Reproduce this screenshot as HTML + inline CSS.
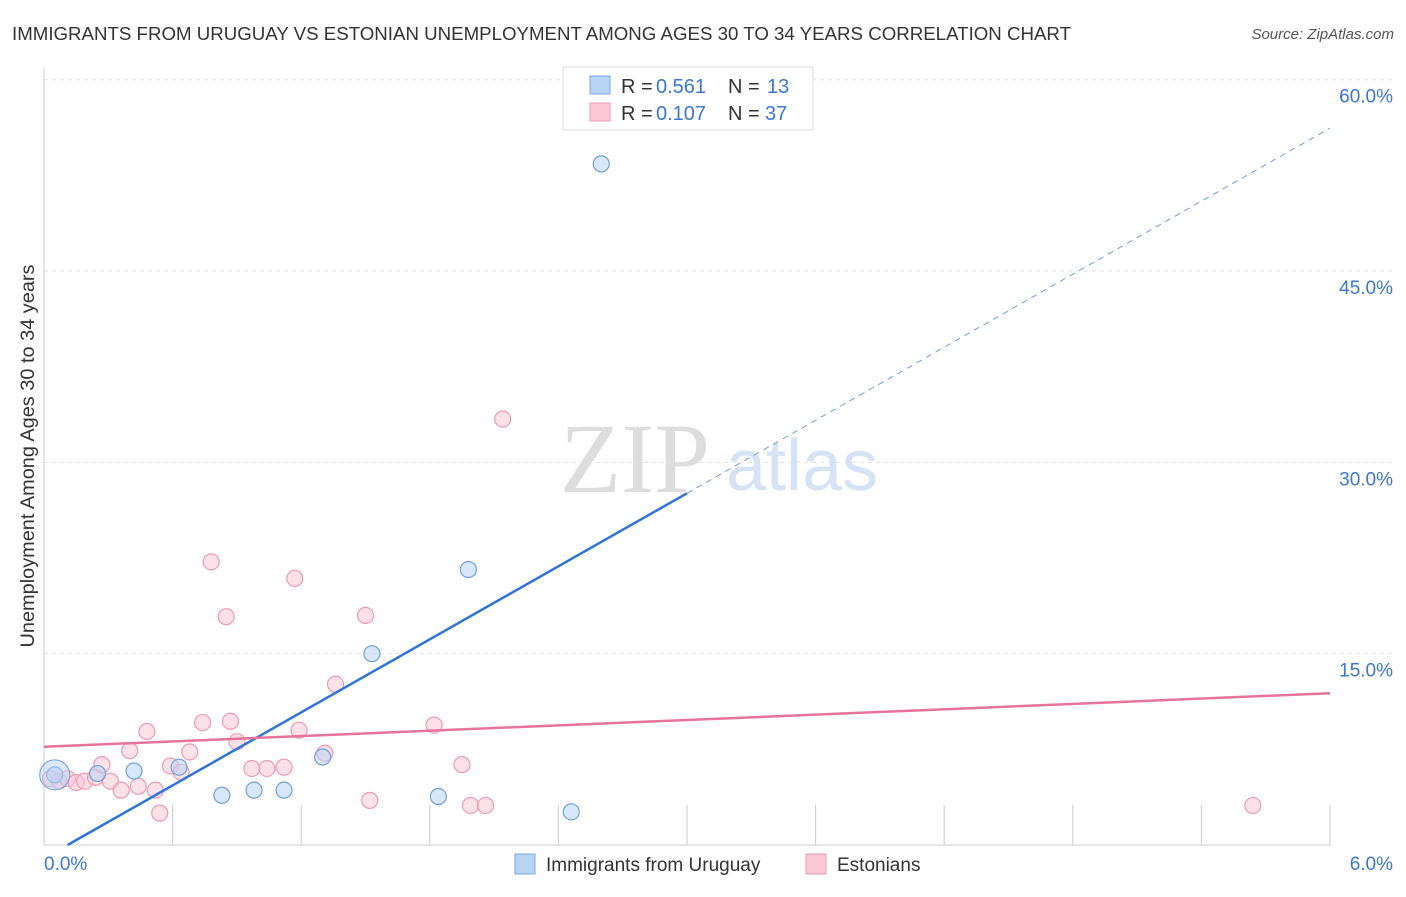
<!DOCTYPE html>
<html><head><meta charset="utf-8"><style>
body{margin:0;background:#fff;font-family:"Liberation Sans",sans-serif}
</style></head><body>
<svg id="c" width="1406" height="892" xmlns="http://www.w3.org/2000/svg">
<text x="12" y="40" font-size="18" fill="#333" textLength="1059" lengthAdjust="spacingAndGlyphs">IMMIGRANTS FROM URUGUAY VS ESTONIAN UNEMPLOYMENT AMONG AGES 30 TO 34 YEARS CORRELATION CHART</text>
<text x="1394" y="39" font-size="15" fill="#555" font-style="italic" text-anchor="end">Source: ZipAtlas.com</text>
<text x="635" y="492" font-size="100" fill="#ddd" font-family="Liberation Serif" text-anchor="middle">ZIP</text>
<text x="802" y="490" font-size="72" fill="#d5e3f5" text-anchor="middle">atlas</text>
<text transform="translate(34,456) rotate(-90)" font-size="19" fill="#333" text-anchor="middle" textLength="383" lengthAdjust="spacingAndGlyphs">Unemployment Among Ages 30 to 34 years</text>
<g id="grid"></g><g id="marks"></g>
<g>
<rect x="563" y="67" width="250" height="63" fill="#fff" stroke="#ddd"/>
<rect x="590" y="76" width="20" height="18" fill="#b8d4f5" stroke="#7aa8e0"/>
<rect x="590" y="103" width="20" height="18" fill="#fac8d6" stroke="#ee9ab2"/>
<text x="621" y="93" font-size="20" fill="#333">R =</text><text x="656" y="93" font-size="20" fill="#3a78d4">0.561</text>
<text x="728" y="93" font-size="20" fill="#333">N =</text><text x="767" y="93" font-size="20" fill="#3a78d4">13</text>
<text x="621" y="120" font-size="20" fill="#333">R =</text><text x="656" y="120" font-size="20" fill="#3a78d4">0.107</text>
<text x="728" y="120" font-size="20" fill="#333">N =</text><text x="765" y="120" font-size="20" fill="#3a78d4">37</text>
</g>
<g>
<rect x="515" y="854" width="20" height="20" fill="#b8d4f5" stroke="#7aa8e0"/>
<text x="546" y="871" font-size="19" fill="#333">Immigrants from Uruguay</text>
<rect x="806" y="854" width="20" height="20" fill="#fac8d6" stroke="#ee9ab2"/>
<text x="837" y="871" font-size="19" fill="#333">Estonians</text>
</g>
</svg>
<script>
const blueX=[0.05,0.25,0.42,0.63,0.83,0.98,1.12,1.30,1.53,1.84,1.98,2.46,2.60];
const blueY=[5.5,5.6,5.8,6.1,3.9,4.3,4.3,6.9,15.0,3.8,21.6,2.6,53.4];
const pinkX=[0.03,0.07,0.11,0.15,0.19,0.24,0.27,0.31,0.36,0.40,0.44,0.48,0.52,0.54,0.59,0.64,0.68,0.74,0.78,0.85,0.87,0.90,0.97,1.04,1.12,1.17,1.19,1.31,1.36,1.50,1.52,1.82,1.95,1.99,2.06,2.14,5.64];
const pinkY=[5.2,5.0,5.2,4.9,5.0,5.3,6.3,5.0,4.3,7.4,4.6,8.9,4.3,2.5,6.2,5.7,7.3,9.6,22.2,17.9,9.7,8.1,6.0,6.0,6.1,20.9,9.0,7.2,12.6,18.0,3.5,9.4,6.3,3.1,3.1,33.4,3.1];
const blueLine=[[0.11,0],[6,56.2]];
const pinkLine=[[0,7.7],[6,11.9]];
const yTicks=[15,30,45,60], yLabels=["15.0%","30.0%","45.0%","60.0%"];
const NS="http://www.w3.org/2000/svg";
const X=v=>44+v*214.33, Y=v=>845-v*12.755;
function mk(t,a,p){const e=document.createElementNS(NS,t);for(const k in a)e.setAttribute(k,a[k]);p.appendChild(e);return e;}
const g=document.getElementById('grid'),m=document.getElementById('marks');
yTicks.forEach((t,i)=>{const l=mk('line',{x1:44,x2:1392,y1:Y(t),y2:Y(t),stroke:'#e2e2e2','stroke-dasharray':'4,4'},g);


const tx=mk('text',{x:1393,y:Y(t)+23,'font-size':19,fill:'#3a78d4','text-anchor':'end'},g);tx.textContent=yLabels[i];

});
mk('line',{x1:44,x2:44,y1:68,y2:845,stroke:'#ccc'},g);
mk('line',{x1:44,x2:1330,y1:845,y2:845,stroke:'#ccc'},g);
for(let i=1;i<=10;i++){const t=mk('line',{x1:X(i*0.6),x2:X(i*0.6),y1:805,y2:845,stroke:'#ccc'},g);

}
[["0.0%",44,'start'],["6.0%",1393,'end']].forEach(a=>{const t=mk('text',{x:a[1],y:870,'font-size':19,fill:'#3a78d4','text-anchor':a[2]},g);t.textContent=a[0];

});
function pts(xs,ys,f,s,name){xs.forEach((x,i)=>{const c=mk('circle',{cx:X(x),cy:Y(ys[i]),r:8,fill:f,'fill-opacity':0.55,stroke:s,'stroke-width':1.2},m);

});}
pts(pinkX,pinkY,'#fac8d6','#ee9ab2','estonian-point');
pts(blueX,blueY,'#b8d4f5','#6f9fdc','uruguay-point');
const big=mk('circle',{cx:X(blueX[0]),cy:Y(blueY[0]),r:15,fill:'#b8d4f5','fill-opacity':0.5,stroke:'#6f9fdc'},m);


const bx=blueLine, bf=v=>bx[0][1]+(bx[1][1]-bx[0][1])*(v-bx[0][0])/(bx[1][0]-bx[0][0]);
const b1=mk('line',{x1:X(bx[0][0]),y1:Y(bf(bx[0][0])),x2:X(3),y2:Y(bf(3)),stroke:'#2f74d8','stroke-width':2.5},m);


const b2=mk('line',{x1:X(3),y1:Y(bf(3)),x2:X(6),y2:Y(bf(6)),stroke:'#6f9fdc','stroke-width':1,'stroke-dasharray':'6,5'},m);


const p1=mk('line',{x1:X(pinkLine[0][0]),y1:Y(pinkLine[0][1]),x2:X(pinkLine[1][0]),y2:Y(pinkLine[1][1]),stroke:'#e8739a','stroke-width':2.5},m);


</script>
</body></html>
